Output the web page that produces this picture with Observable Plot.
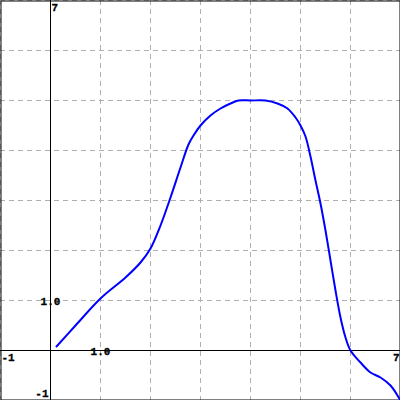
<!DOCTYPE html>
<html><head><meta charset="utf-8">
<script src="https://cdn.jsdelivr.net/npm/d3@7"></script>
<script src="https://cdn.jsdelivr.net/npm/@observablehq/plot@0.6"></script>
<style>body{margin:0;background:#fff}</style>
</head><body><div id="chart"></div>
<script>
const xs = [0.12,0.5,1.0,1.5,1.8,2.0,2.2,2.4,2.6,2.76,2.86,3.0,3.2,3.4,3.6,3.76,4.0,4.3,4.54,4.74,4.9,5.0,5.1,5.2,5.3,5.4,5.5,5.6,5.7,5.8,5.9,6.0,6.2,6.4,6.6,6.8,7.0];
const ys = [0.08,0.5,1.04,1.46,1.76,2.04,2.5,3.06,3.66,4.12,4.3,4.5,4.7,4.84,4.94,5.0,5.0,5.0,4.94,4.84,4.66,4.5,4.28,3.88,3.4,2.94,2.4,1.8,1.2,0.66,0.26,0.0,-0.24,-0.44,-0.54,-0.7,-1.0];
const gridTicks = [-1,0,1,2,3,4,5,6,7];
const data = xs.map((x,i)=>({x, y: ys[i]}));
const font = "'Liberation Mono', 'DejaVu Sans Mono', monospace";
const lbl = {fontFamily: font, fontWeight: "bold", fontSize: 11, fill: "black", stroke: "black", strokeWidth: 0.3};
const chart = Plot.plot({
  width: 400, height: 400, margin: 0,
  x: {domain: [-1, 7], axis: null},
  y: {domain: [-1, 7], axis: null},
  style: {background: "#fff"},
  marks: [
    Plot.ruleX(gridTicks, {stroke: "#b0b0b0", strokeDasharray: "5,4", strokeOpacity: 1}),
    Plot.ruleY(gridTicks, {stroke: "#b0b0b0", strokeDasharray: "5,4", strokeOpacity: 1}),
    Plot.ruleX([0], {stroke: "black", strokeWidth: 1}),
    Plot.ruleY([0], {stroke: "black", strokeWidth: 1}),
    Plot.frame({stroke: "black", inset: 0.5}),
    Plot.line(data, {x: "x", y: "y", stroke: "#0000ff", strokeWidth: 2, curve: "catmull-rom"}),
    Plot.text(["-1"], {x: -1, y: 0, dx: 1, dy: 7, textAnchor: "start", ...lbl}),
    Plot.text(["7"], {x: 7, y: 0, dx: -1, dy: 7, textAnchor: "end", ...lbl}),
    Plot.text(["7"], {x: 0, y: 7, dx: 1, dy: 7, textAnchor: "start", ...lbl}),
    Plot.text(["-1"], {x: 0, y: -1, dx: -2, dy: -7, textAnchor: "end", ...lbl}),
    Plot.text(["1.0"], {x: 1, y: 0, dy: 1, textAnchor: "middle", ...lbl}),
    Plot.text(["1.0"], {x: 0, y: 1, dy: 1, textAnchor: "middle", ...lbl})
  ]
});
document.getElementById("chart").appendChild(chart);
</script></body></html>
